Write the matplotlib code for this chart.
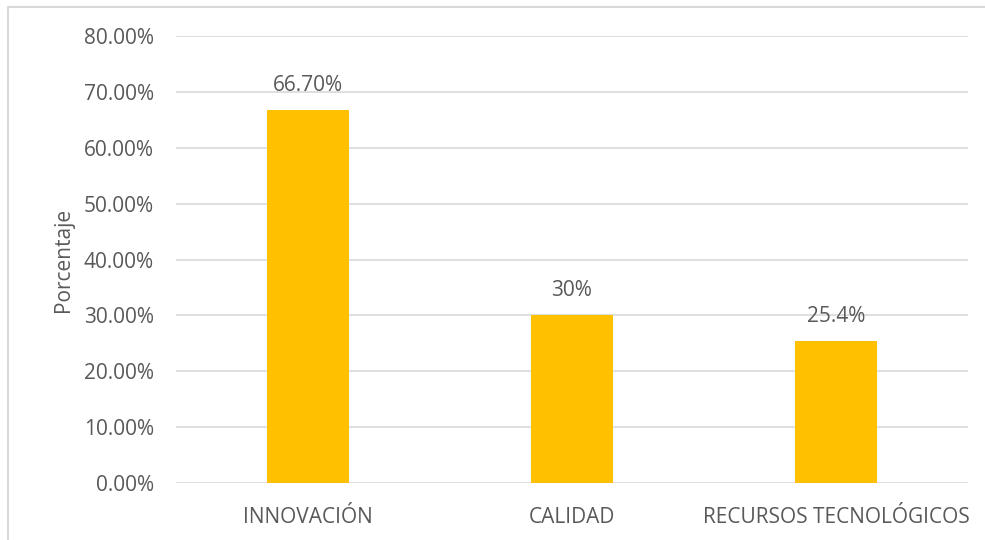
import matplotlib
matplotlib.use("Agg")
import matplotlib.pyplot as plt
from matplotlib.patches import Rectangle
from matplotlib.ticker import FuncFormatter, MultipleLocator

categories = ["INNOVACIÓN", "CALIDAD", "RECURSOS TECNOLÓGICOS"]
values = [66.70, 30.0, 25.4]
value_labels = ["66.70%", "30%", "25.4%"]
y_label = "Porcentaje"

plt.rcParams["font.family"] = ["Open Sans", "DejaVu Sans"]
text_color = "#595959"
grid_color = "#d9d9d9"
bar_color = "#FFC000"

fig = plt.figure(figsize=(9.85, 5.4), dpi=100)
fig.patch.set_facecolor("white")

# chart frame
fig.add_artist(Rectangle((8 / 985, -0.05), 1.1, 1 - 6.5 / 540 + 0.05,
                         transform=fig.transFigure, fill=False,
                         edgecolor=grid_color, linewidth=1.5))

ax = fig.add_axes([176 / 985, 1 - 483 / 540, (968 - 176) / 985, (483 - 36) / 540])
x = range(len(categories))
ax.bar(x, values, width=0.31, color=bar_color, zorder=3)
ax.set_xlim(-0.5, len(categories) - 0.5)
ax.set_ylim(0, 80)
ax.yaxis.set_major_locator(MultipleLocator(10))
ax.yaxis.set_major_formatter(FuncFormatter(lambda v, p: f"{v:.2f}%"))
ax.set_xticks(list(x))
ax.set_xticklabels(categories)
ax.grid(axis="y", color=grid_color, linewidth=1.2, zorder=0)
for s in ax.spines.values():
    s.set_visible(False)
ax.tick_params(axis="both", length=0, colors=text_color, labelsize=15)
ax.tick_params(axis="y", pad=16)
ax.tick_params(axis="x", pad=17)
ax.set_ylabel(y_label, color=text_color, fontsize=15, labelpad=7)

for xi, v, lab in zip(x, values, value_labels):
    ax.annotate(lab, (xi, v), xytext=(0, 10), textcoords="offset points",
                ha="center", va="bottom", color=text_color, fontsize=15)

fig.savefig("out.png", dpi=100)
